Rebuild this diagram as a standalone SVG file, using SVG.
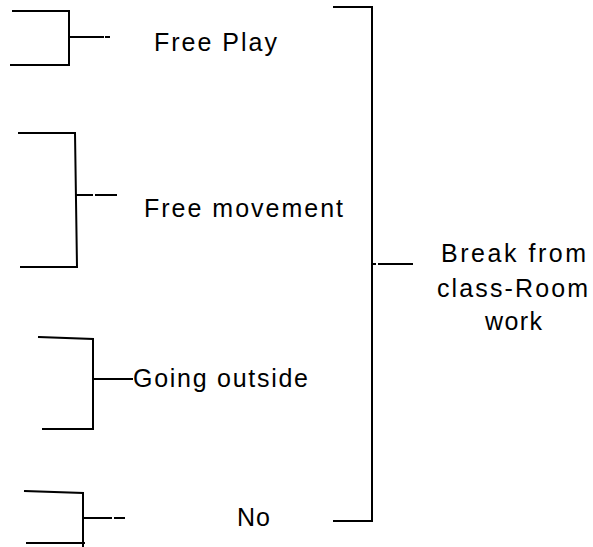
<svg xmlns="http://www.w3.org/2000/svg" width="593" height="547" viewBox="0 0 593 547">
<style>
.ln{fill:none;stroke:#000;stroke-width:2;stroke-linecap:square}
.t{font-family:"Liberation Sans",Arial,sans-serif;font-size:25px;fill:#000}
</style>
<rect width="593" height="547" fill="#fff"/>
<g id="connectors">
<path class="ln" d="M13,11 H69 V65 H11 M69,37 H103 M106,37 H109"/>
<path class="ln" d="M19,133 H75 L77,267 H21 M76,195 H92 M96,195 H116"/>
<path class="ln" d="M39,337 L93,339 V429 H43 M93,379 H132"/>
<path class="ln" d="M25,491 L83,493 V546 M27,543 H84 M83,518 H111 M115,518 H124"/>
<path class="ln" d="M334,7 H372 V521 H334 M372,264 H375 M379,264 H412"/>
</g>
<g id="free-play"><text class="t" x="154" y="51" textLength="123" lengthAdjust="spacing">Free Play</text></g>
<g id="free-movement"><text class="t" x="144" y="217" textLength="199" lengthAdjust="spacing">Free movement</text></g>
<g id="going-outside"><text class="t" x="133" y="387" textLength="175" lengthAdjust="spacing">Going outside</text></g>
<g id="no"><text class="t" x="237" y="526" textLength="33" lengthAdjust="spacing">No</text></g>
<g id="break">
<text class="t" x="441" y="262" textLength="145" lengthAdjust="spacing">Break from</text>
<text class="t" x="437" y="297" textLength="151" lengthAdjust="spacing">class-Room</text>
<text class="t" x="485" y="330" textLength="57" lengthAdjust="spacing">work</text>
</g>
</svg>
